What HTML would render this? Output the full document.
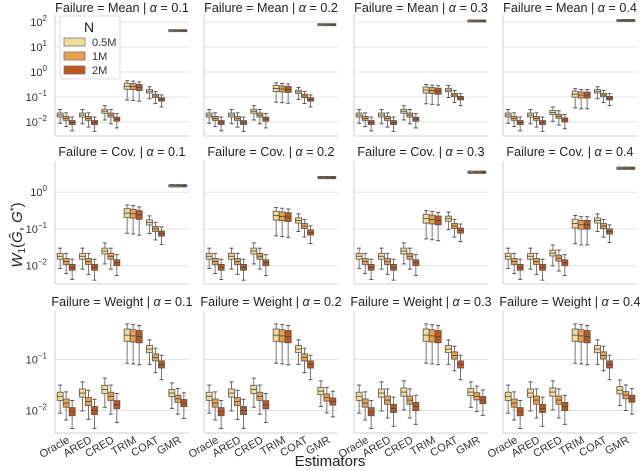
<!DOCTYPE html>
<html><head><meta charset="utf-8">
<style>
body{margin:0;background:#fff;}
svg{display:block;font-family:"Liberation Sans",sans-serif;}
</style></head>
<body>
<svg id="chart" width="640" height="471"></svg>
<script>
const estimators=["Oracle","ARED","CRED","TRIM","COAT","GMR"];
const sizes=["0.5M","1M","2M"];
const failures=["Mean","Cov.","Weight"];
const alphas=["0.1","0.2","0.3","0.4"];
const medMean1=[.019,.014,.0095,.019,.014,.0095,.027,.019,.013,.27,.26,.24,.17,.11,.08,45,45,45];
const medMean2=[.019,.014,.0095,.019,.014,.0095,.027,.019,.013,.22,.21,.20,.16,.11,.08,78,78,78];
const medMean3=[.019,.014,.0095,.019,.014,.0095,.027,.019,.013,.19,.18,.17,.19,.12,.09,110,110,110];
const medMean4=[.019,.014,.0095,.019,.014,.0095,.024,.017,.012,.13,.12,.12,.17,.12,.09,115,115,115];
const medCov1=[.018,.013,.009,.018,.013,.009,.025,.018,.012,.27,.26,.24,.15,.10,.075,1.5,1.5,1.5];
const medCov2=[.018,.013,.009,.018,.013,.009,.025,.018,.012,.23,.22,.21,.17,.12,.08,2.5,2.5,2.5];
const medCov3=[.018,.013,.009,.018,.013,.009,.025,.018,.012,.19,.18,.17,.19,.12,.09,3.5,3.5,3.5];
const medCov4=[.018,.013,.009,.018,.013,.009,.022,.016,.012,.14,.13,.13,.17,.12,.085,4.5,4.5,4.5];
const medW1=[.019,.014,.0095,.022,.015,.010,.026,.019,.013,.30,.29,.28,.16,.11,.08,.022,.017,.014];
const medW2=[.019,.014,.0095,.022,.015,.010,.026,.019,.013,.30,.29,.28,.16,.11,.08,.024,.018,.015];
const medW3=[.019,.014,.0095,.022,.016,.011,.023,.016,.012,.30,.29,.28,.16,.12,.08,.023,.019,.016];
const medW4=[.019,.014,.0095,.022,.016,.011,.023,.016,.012,.30,.29,.28,.16,.12,.08,.025,.020,.017];
const medians=[[medMean1,medMean2,medMean3,medMean4],[medCov1,medCov2,medCov3,medCov4],[medW1,medW2,medW3,medW4]];
const boxSpread=[0.08,0.08,0.08,0.12,0.07,0.07];
const loWhisk=[0.33,0.35,0.35,0.55,0.30,0.30];
const hiWhisk=[0.22,0.22,0.22,0.22,0.18,0.20];
const gmrTight=[0.015,0.03,0.03];
const rowTicks=[[-2,-1,0,1,2],[-2,-1,0],[-2,-1]];
const rowRange=[[-2.56,2.32],[-2.5,0.85],[-2.44,-0.05]];
const rowY=[[14,136],[161,284],[311,433]];
const colX=[[55,189],[204,338],[354,488],[503,637]];
const colors=["#f3dc98","#e9a04c","#c0561c"];
const NS="http://www.w3.org/2000/svg";
const svg=document.getElementById('chart');
function mk(t,a,p){const e=document.createElementNS(NS,t);for(const k in a)e.setAttribute(k,a[k]);(p||svg).appendChild(e);return e;}
for(let r=0;r<3;r++){for(let c=0;c<4;c++){
  const [x0,x1]=colX[c],[yt,yb]=rowY[r],[lmin,lmax]=rowRange[r];
  const g=mk('g',{});
  
  
  const yS=v=>yb-(Math.log10(v)-lmin)/(lmax-lmin)*(yb-yt);
  const yL=l=>yb-(l-lmin)/(lmax-lmin)*(yb-yt);
  rowTicks[r].forEach(t=>{
    const gl=mk('line',{x1:x0,x2:x1,y1:yL(t),y2:yL(t),stroke:'#e3e3e3','stroke-width':1},g);
    
    
    if(c===0){
      const tx=mk('text',{x:x0-8,y:yL(t)+4,'text-anchor':'end','font-size':11,fill:'#333'},g);
      
      
      tx.innerHTML='10<tspan dy="-5" font-size="8">'+(t<0?'\u2212'+(-t):t)+'</tspan>';
    }
  });
  mk('line',{x1:x0,x2:x0,y1:yt,y2:yb,stroke:'#d0d0d0'},g);
  mk('line',{x1:x0,x2:x1,y1:yb,y2:yb,stroke:'#d0d0d0'},g);
  const title=mk('text',{x:(x0+x1)/2,y:Math.max(yt-5,12),'text-anchor':'middle','font-size':12.6,fill:'#222'},g);
  
  
  title.innerHTML='Failure = '+failures[r]+' | <tspan font-style="italic">α</tspan> = '+alphas[c];
  const gw=(x1-x0)/6;
  const meds=medians[r][c];
  for(let e=0;e<6;e++){for(let s=0;s<3;s++){
    const m=meds[e*3+s];const lm=Math.log10(m);
    const tight=(e===5&&r<2);
    const bs=tight?gmrTight[0]:boxSpread[e],lw=tight?gmrTight[1]:loWhisk[e],hw=tight?gmrTight[2]:hiWhisk[e];
    const cx=x0+gw*(e+0.5)+(s-1)*6;
    const bx=mk('g',{},g);
    
    
    mk('line',{x1:cx,x2:cx,y1:yL(lm-lw),y2:yL(lm+hw),stroke:'#777','stroke-width':1},bx);
    mk('line',{x1:cx-2,x2:cx+2,y1:yL(lm-lw),y2:yL(lm-lw),stroke:'#555'},bx);
    mk('line',{x1:cx-2,x2:cx+2,y1:yL(lm+hw),y2:yL(lm+hw),stroke:'#555'},bx);
    const h=Math.max(2,yL(lm-bs)-yL(lm+bs));
    mk('rect',{x:cx-3,y:yL(lm)-h/2,width:6,height:h,fill:colors[s],stroke:'#555','stroke-width':0.8},bx);
    mk('line',{x1:cx-3,x2:cx+3,y1:yS(m),y2:yS(m),stroke:'#444','stroke-width':0.8},bx);
  }}
  if(r===2){estimators.forEach((n,e)=>{
    const tx=x0+gw*(e+0.5)+4,ty=442;
    const t=mk('text',{x:tx,y:ty,'text-anchor':'end','font-size':11,fill:'#333',transform:`rotate(-30 ${tx} ${ty})`},g);
    
    
    t.textContent=n;
  });}
}}
const lg=mk('g',{});


mk('rect',{x:60,y:16,width:60,height:63,fill:'#fff',stroke:'#ddd','fill-opacity':0.9,rx:2},lg);
const lt=mk('text',{x:89,y:32,'text-anchor':'middle','font-size':14,fill:'#222'},lg);lt.textContent='N';
sizes.forEach((s,i)=>{
  const en=mk('g',{},lg);
  
  
  mk('rect',{x:64,y:38+i*14,width:21,height:8,fill:colors[i],stroke:'#777','stroke-width':0.8},en);
  const t=mk('text',{x:92,y:46+i*14,'font-size':11,fill:'#333'},en);t.textContent=s;
});
const yl=mk('text',{x:22,y:235,'text-anchor':'middle','font-size':15,fill:'#222',transform:'rotate(-90 22 235)'});


yl.innerHTML='<tspan font-style="italic">W</tspan><tspan font-size="10" dy="3">1</tspan><tspan dy="-3">(</tspan><tspan font-style="italic">Ĝ</tspan>, <tspan font-style="italic">G</tspan><tspan font-size="10" dy="-5">*</tspan><tspan dy="5">)</tspan>';
const xl=mk('text',{x:330,y:466,'text-anchor':'middle','font-size':15,fill:'#222'});


xl.textContent='Estimators';
</script>
</body></html>
